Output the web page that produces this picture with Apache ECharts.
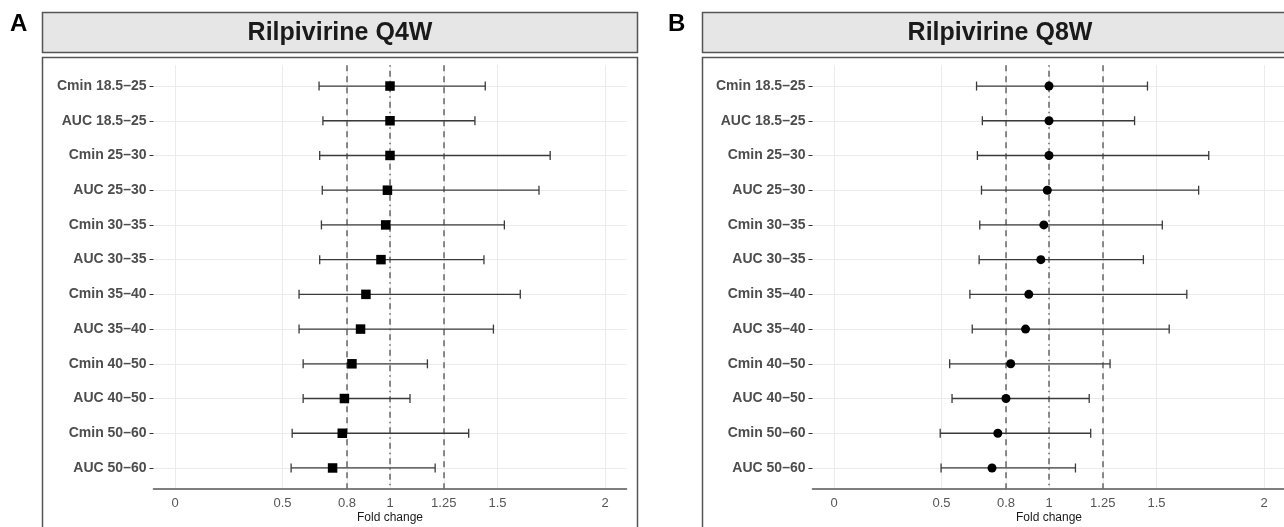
<!DOCTYPE html>
<html>
<head>
<meta charset="utf-8">
<script src="https://cdn.jsdelivr.net/npm/echarts@6/dist/echarts.min.js"></script>
<style>
html,body{margin:0;padding:0;background:#fff;}
#c{width:1284px;height:527px;}
</style>
</head>
<body>
<div id="c"></div>
<script>
const categories = ['Cmin 18.5–25', 'AUC 18.5–25', 'Cmin 25–30', 'AUC 25–30', 'Cmin 30–35', 'AUC 30–35', 'Cmin 35–40', 'AUC 35–40', 'Cmin 40–50', 'AUC 40–50', 'Cmin 50–60', 'AUC 50–60'];

const q4wEst = [1.000, 1.000, 1.000, 0.988, 0.980, 0.958, 0.888, 0.863, 0.823, 0.788, 0.778, 0.733];
const q4wLo  = [0.670, 0.688, 0.673, 0.685, 0.681, 0.673, 0.577, 0.577, 0.596, 0.596, 0.545, 0.540];
const q4wHi  = [1.443, 1.395, 1.745, 1.693, 1.532, 1.437, 1.606, 1.481, 1.174, 1.093, 1.366, 1.210];

const q8wEst = [1.000, 1.000, 1.000, 0.992, 0.976, 0.962, 0.906, 0.891, 0.822, 0.800, 0.762, 0.735];
const q8wLo  = [0.663, 0.690, 0.667, 0.686, 0.678, 0.675, 0.632, 0.643, 0.538, 0.549, 0.494, 0.498];
const q8wHi  = [1.458, 1.398, 1.743, 1.696, 1.527, 1.439, 1.641, 1.559, 1.284, 1.187, 1.194, 1.123];

const xTicks = [0, 0.5, 0.8, 1, 1.25, 1.5, 2];
const dashedRefs = [0.8, 1.25];
const dotDashRefs = [1];
const panelTitles = ['Rilpivirine Q4W', 'Rilpivirine Q8W'];
const panelTags = ['A', 'B'];
const xTitle = 'Fold change';

const FONT = '"Liberation Sans", Arial, Helvetica, sans-serif';
const chart = echarts.init(document.getElementById('c'), null, {renderer: 'canvas'});

const panels = [
  {est: q4wEst, lo: q4wLo, hi: q4wHi, symbol: 'rect', size: 9.5, gridLeft: 153.5, boxX: 42, tagX: 10},
  {est: q8wEst, lo: q8wLo, hi: q8wHi, symbol: 'circle', size: 9, gridLeft: 812.5, boxX: 702, tagX: 668}
];
const yIdx = categories.map((_, i) => i);

const grids = [], xAxes = [], yAxes = [], series = [], graphics = [];
panels.forEach((p, k) => {
  grids.push({left: p.gridLeft, width: 473, top: 65.2, height: 423.6, containLabel: false, outerBoundsMode: 'none'});
  xAxes.push({
    type: 'value', gridIndex: k, min: -0.1, max: 2.1,
    name: xTitle, nameLocation: 'middle', nameGap: 23, nameMoveOverlap: false,
    nameTextStyle: {fontFamily: FONT, fontSize: 12, color: '#1a1a1a'},
    axisLine: {show: true, onZero: false, lineStyle: {color: '#555', width: 1.6}},
    axisTick: {show: false, customValues: xTicks},
    axisLabel: {customValues: xTicks, fontFamily: FONT, fontSize: 13, color: '#555', margin: 8,
      formatter: v => String(v)},
    splitLine: {show: true, lineStyle: {color: '#ebebeb', width: 1}}
  });
  yAxes.push({
    type: 'value', gridIndex: k, min: -0.6, max: 11.6, inverse: true,
    axisLine: {show: false, onZero: false},
    axisTick: {show: true, length: 4, customValues: yIdx, lineStyle: {color: '#333', width: 1}},
    axisLabel: {customValues: yIdx, fontFamily: FONT, fontSize: 14, fontWeight: 'bold', color: '#4d4d4d', margin: 7,
      formatter: v => categories[Math.round(v)]},
    splitLine: {show: true, lineStyle: {color: '#ebebeb', width: 1}}
  });
  series.push({
    type: 'custom', xAxisIndex: k, yAxisIndex: k, z: 3,
    data: yIdx.map(i => [i, p.lo[i], p.hi[i]]),
    encode: {x: [1, 2], y: 0},
    renderItem: (params, api) => {
      const yi = api.value(0);
      const a = api.coord([api.value(1), yi]);
      const b = api.coord([api.value(2), yi]);
      const st = {stroke: '#3a3a3a', lineWidth: 1.3};
      return {type: 'group', children: [
        {type: 'line', shape: {x1: a[0], y1: a[1], x2: b[0], y2: b[1]}, style: st},
        {type: 'line', shape: {x1: a[0], y1: a[1] - 4.5, x2: a[0], y2: a[1] + 4.5}, style: st},
        {type: 'line', shape: {x1: b[0], y1: b[1] - 4.5, x2: b[0], y2: b[1] + 4.5}, style: st}
      ]};
    },
    silent: true
  });
  series.push({
    type: 'scatter', xAxisIndex: k, yAxisIndex: k, z: 5,
    symbol: p.symbol, symbolSize: p.size,
    itemStyle: {color: '#000', opacity: 1},
    data: yIdx.map(i => [p.est[i], i]),
    silent: true,
    markLine: {
      silent: true, symbol: 'none', label: {show: false}, z: 2,
      data: dashedRefs.map(v => ({xAxis: v, lineStyle: {color: '#666', width: 1.5, type: [6, 5]}}))
        .concat(dotDashRefs.map(v => ({xAxis: v, lineStyle: {color: '#666', width: 1.5, type: [1.5, 4, 6, 4]}})))
    }
  });
  graphics.push(
    {type: 'text', x: p.tagX, y: 12, style: {text: panelTags[k], font: 'bold 24px ' + FONT, fill: '#000'}},
    {type: 'rect', shape: {x: p.boxX + 0.5, y: 12.5, width: 595, height: 40}, style: {fill: '#e6e6e6', stroke: '#555', lineWidth: 1.5}},
    {type: 'text', x: p.boxX + 298, y: 33, style: {text: panelTitles[k], font: 'bold 25px ' + FONT, fill: '#1a1a1a', align: 'center', verticalAlign: 'middle'}},
    {type: 'rect', shape: {x: p.boxX + 0.5, y: 57.5, width: 595, height: 490}, style: {fill: 'none', stroke: '#555', lineWidth: 1.5}}
  );
});

chart.setOption({
  animation: false,
  backgroundColor: '#fff',
  grid: grids, xAxis: xAxes, yAxis: yAxes, series: series,
  graphic: graphics
});
</script>
</body>
</html>
